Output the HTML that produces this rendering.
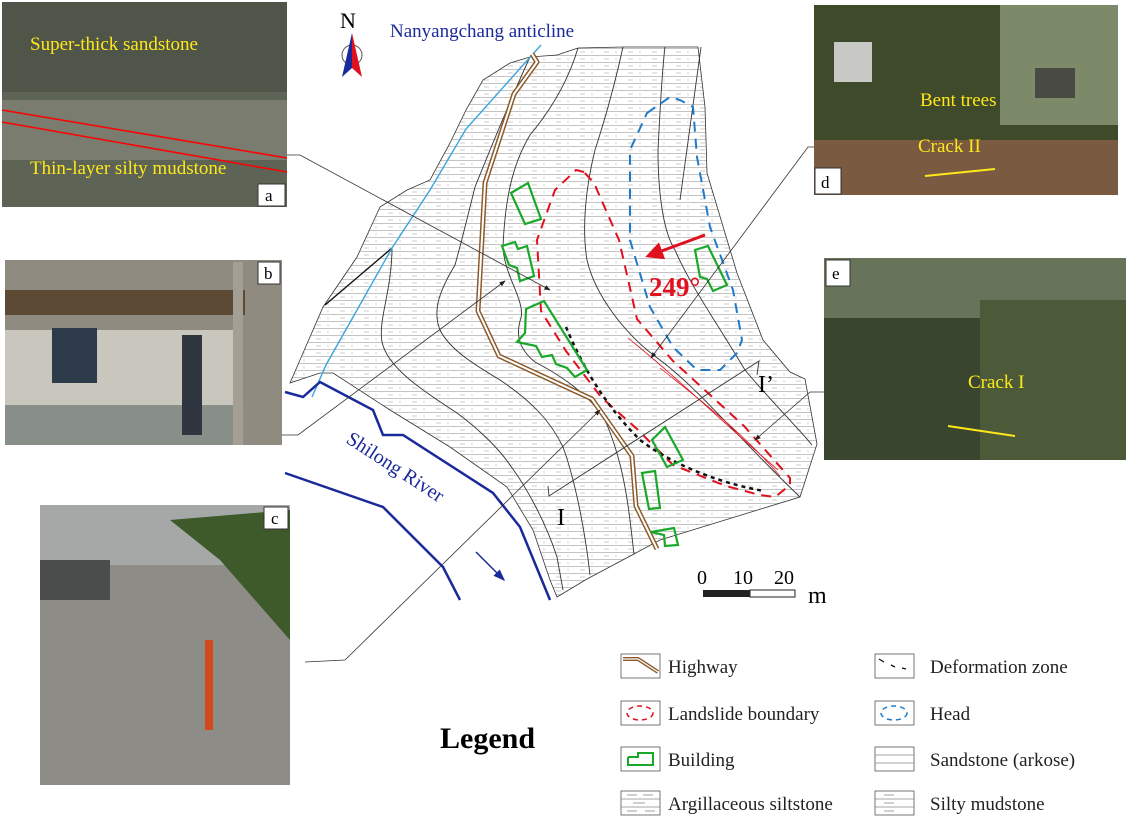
<!DOCTYPE html>
<html><head><meta charset="utf-8"><style>
html,body{margin:0;padding:0;background:#fff;}
svg{display:block;font-family:"Liberation Serif",serif;}
</style></head><body>
<svg width="1133" height="818" viewBox="0 0 1133 818" xmlns="http://www.w3.org/2000/svg">
<defs>
<pattern id="hatch" width="24" height="7" patternUnits="userSpaceOnUse">
<rect width="24" height="7" fill="#fff"/>
<line x1="0" y1="6.5" x2="24" y2="6.5" stroke="#b0b0b0" stroke-width="0.7"/>
<line x1="4" y1="3" x2="9" y2="3" stroke="#b8b8b8" stroke-width="0.7"/>
<line x1="16" y1="2" x2="16" y2="4.5" stroke="#b8b8b8" stroke-width="0.6"/>
</pattern>
<marker id="ah" markerWidth="8" markerHeight="8" refX="7" refY="4" orient="auto"><path d="M0,1 L8,4 L0,7Z" fill="#222"/></marker>
<marker id="ahr" markerWidth="6" markerHeight="6" refX="5" refY="3" orient="auto"><path d="M0,0 L6,3 L0,6Z" fill="#e0101e"/></marker>
<marker id="ahb" markerWidth="8" markerHeight="8" refX="7" refY="4" orient="auto"><path d="M0,1 L8,4 L0,7Z" fill="#1a2a9a"/></marker>
</defs>

<!-- photos -->
<rect x="2" y="2" width="285" height="205" fill="#5d6456"/>
<rect x="2" y="2" width="285" height="90" fill="#4f5548"/>
<rect x="2" y="100" width="285" height="60" fill="#7a7c70"/>
<line x1="2" y1="110" x2="287" y2="158" stroke="#f00" stroke-width="1.5"/>
<line x1="2" y1="122" x2="287" y2="172" stroke="#f00" stroke-width="1.5"/>
<text x="30" y="50" font-size="19" fill="#ffe81a">Super-thick sandstone</text>
<text x="30" y="174" font-size="19" fill="#ffe81a">Thin-layer silty mudstone</text>
<rect x="258" y="184" width="27" height="22" fill="#fff" stroke="#333"/>
<text x="265" y="201" font-size="17">a</text>

<rect x="5" y="260" width="277" height="185" fill="#8f8b80"/>
<rect x="5" y="330" width="230" height="115" fill="#c9c6bd"/>
<rect x="5" y="290" width="240" height="25" fill="#5d4a35"/>
<rect x="52" y="328" width="45" height="55" fill="#2d3a4a"/>
<rect x="5" y="405" width="240" height="40" fill="#888f88"/>
<rect x="233" y="262" width="10" height="183" fill="#a49f95"/>
<rect x="182" y="335" width="20" height="100" fill="#2f3640"/>
<rect x="258" y="262" width="22" height="22" fill="#fff" stroke="#333"/>
<text x="264" y="279" font-size="17">b</text>

<rect x="40" y="505" width="250" height="280" fill="#8d8c87"/>
<rect x="40" y="505" width="250" height="60" fill="#a5a8a6"/>
<polygon points="170,520 290,510 290,640 220,560" fill="#3e5a2a"/>
<rect x="40" y="560" width="70" height="40" fill="#4b4c4c"/>
<rect x="205" y="640" width="8" height="90" fill="#d04a1e"/>
<rect x="264" y="507" width="24" height="22" fill="#fff" stroke="#333"/>
<text x="271" y="524" font-size="17">c</text>

<rect x="814" y="5" width="304" height="190" fill="#3f4a2a"/>
<rect x="814" y="140" width="304" height="55" fill="#7a5a40"/>
<rect x="1000" y="5" width="118" height="120" fill="#7c8a6a"/>
<rect x="834" y="42" width="38" height="40" fill="#c8c9c4"/>
<rect x="1035" y="68" width="40" height="30" fill="#4a4a44"/>
<text x="920" y="106" font-size="19" fill="#ffe81a">Bent trees</text>
<text x="918" y="152" font-size="19" fill="#ffe81a">Crack II</text>
<line x1="925" y1="176" x2="995" y2="169" stroke="#ffe81a" stroke-width="2"/>
<rect x="815" y="168" width="26" height="26" fill="#fff" stroke="#333"/>
<text x="821" y="188" font-size="17">d</text>

<rect x="824" y="258" width="302" height="202" fill="#3a4530"/>
<rect x="824" y="258" width="302" height="60" fill="#67745a"/>
<rect x="980" y="300" width="146" height="160" fill="#4c5a3a"/>
<text x="968" y="388" font-size="19" fill="#ffe81a">Crack I</text>
<line x1="948" y1="426" x2="1015" y2="436" stroke="#ffe81a" stroke-width="2"/>
<rect x="826" y="260" width="24" height="26" fill="#fff" stroke="#333"/>
<text x="832" y="279" font-size="17">e</text>

<!-- north arrow -->
<text x="340" y="28" font-size="22">N</text>
<circle cx="352" cy="55" r="10" fill="none" stroke="#555" stroke-width="1"/>
<polygon points="352,33 342,77 352,68" fill="#1a2a9a"/>
<polygon points="352,33 362,77 352,68" fill="#e0101e"/>
<text x="390" y="37" font-size="19" fill="#1a2a9a">Nanyangchang  anticline</text>

<!-- map -->
<path d="M290,383 L300,360 L323,307 L357,257 L380,207 L407,190 L430,180 L450,143 L466,110 L483,80 L510,63 L530,57 L557,55 L578,48 L623,47 L664,47 L698,47 L705,107 L707,173 L737,273 L763,340 L790,372 L805,379 L817,444 L800,497 L660,540 L634,554 L587,579 L557,597 L550,580 L533,530 L507,487 L450,447 L390,410 L333,373 L320,373 Z" fill="url(#hatch)" stroke="#333" stroke-width="0.8"/>
<g fill="none" stroke="#333" stroke-width="0.9">
<path d="M392,248 C392,290 378,320 382,342 C388,370 430,395 457,413 C480,430 500,450 510,465 C525,485 545,520 557,557 L563,590"/>
<path d="M530,57 C510,100 490,150 475,187 C468,215 462,240 455,265 C440,290 432,310 440,330 C450,350 475,365 500,380 C530,400 550,420 563,447 C575,480 585,530 590,575"/>
<path d="M578,48 C570,75 555,105 530,135 C512,165 505,200 503,247 C504,275 525,300 521,318 C515,335 520,350 535,362 C560,375 590,395 605,420 C618,450 625,480 630,520 L634,554"/>
<path d="M623,47 C618,70 608,110 595,150 C585,190 582,230 587,260 C595,295 625,335 660,360 C700,390 740,440 800,497"/>
<path d="M665,47 C662,70 660,110 658,150 C658,200 665,235 675,250 C690,285 715,320 745,370 C770,400 800,430 812,445"/>
<path d="M680,200 L701,47"/>
</g>
<path d="M392,248 L325,305" stroke="#111" stroke-width="1.4" fill="none"/>
<path d="M541,45 L466,129 L430,190 L392,248 L326,365 L312,397" stroke="#3ba4e0" stroke-width="1.4" fill="none"/>
<g fill="none" stroke-linejoin="round">
<path d="M532,54 L537,62 L514,94 L485,183 L478,311 L499,356 L592,399 L632,456 L636,506 L657,549" stroke="#8a5a2a" stroke-width="5"/>
<path d="M532,54 L537,62 L514,94 L485,183 L478,311 L499,356 L592,399 L632,456 L636,506 L657,549" stroke="#fff" stroke-width="2"/>
</g>
<path d="M584,172 L576,170 L555,190 L537,240 L541,311 L566,351 L601,397 L637,429 L673,465 L726,486 L760,495 L775,497 L790,485 L790,478 L744,426 L673,361 L637,319 L619,240 L594,183 Z" fill="none" stroke="#e0101e" stroke-width="2" stroke-dasharray="10,7"/>
<path d="M647,113 L670,97 L680,100 L693,107 L697,157 L710,227 L733,290 L742,340 L737,353 L720,370 L697,370 L673,347 L650,307 L630,240 L630,150 Z" fill="none" stroke="#1f7ac8" stroke-width="2" stroke-dasharray="10,7"/>
<path d="M566,327 C580,360 600,400 640,440 C680,470 730,485 764,491" fill="none" stroke="#111" stroke-width="2.5" stroke-dasharray="4,4"/>
<g stroke="#e0101e" stroke-width="0.8" fill="none">
<path d="M628,338 C680,380 720,420 778,470"/>
<path d="M660,368 C700,400 740,430 780,476"/>
</g>
<g fill="none" stroke="#1aa82a" stroke-width="2.2">
<polygon points="511,193 528,183 541,219 525,224"/>
<polygon points="502,246 515,242 518,249 527,246 534,276 520,281 517,268 509,265"/>
<polygon points="526,309 544,301 587,370 575,377 567,368 556,364 552,355 542,357 536,346 517,342 525,333"/>
<polygon points="652,440 665,427 683,460 667,467"/>
<polygon points="642,473 655,471 660,508 649,509"/>
<polygon points="651,532 674,528 678,545 665,546 664,535"/>
<polygon points="695,250 708,246 727,285 713,291 707,279 700,277"/>
</g>
<line x1="705" y1="235" x2="648" y2="256" stroke="#e0101e" stroke-width="3" marker-end="url(#ahr)"/>
<text x="649" y="296" font-size="27" font-weight="bold" fill="#e0101e">249°</text>
<polyline points="548,486 549,496 759,361 757,375" fill="none" stroke="#333" stroke-width="0.9"/>
<text x="557" y="525" font-size="24">I</text>
<text x="758" y="392" font-size="24">I’</text>
<path d="M285,392 L303,397 L320,382 L373,410 L383,435 L403,435 L493,493 L520,527 L550,600" fill="none" stroke="#1a2a9a" stroke-width="2.5"/>
<path d="M285,473 L383,507 L443,567 L460,600" fill="none" stroke="#1a2a9a" stroke-width="2.5"/>
<text x="345" y="442" font-size="20" fill="#1a2a9a" transform="rotate(33 345 442)">Shilong River</text>
<line x1="476" y1="552" x2="504" y2="580" stroke="#1a2a9a" stroke-width="1.5" marker-end="url(#ahb)"/>
<g stroke="#333" stroke-width="0.8" fill="none">
<polyline points="287,155 300,155 550,290" marker-end="url(#ah)"/>
<polyline points="282,435 298,435 505,281" marker-end="url(#ah)"/>
<polyline points="305,662 345,660 600,410" marker-end="url(#ah)"/>
<polyline points="814,147 808,147 651,358" marker-end="url(#ah)"/>
<polyline points="824,392 810,392 755,440" marker-end="url(#ah)"/>
</g>
<text x="697" y="584" font-size="20">0</text>
<text x="733" y="584" font-size="20">10</text>
<text x="774" y="584" font-size="20">20</text>
<rect x="703" y="590" width="47" height="7" fill="#222"/>
<rect x="750" y="590" width="45" height="7" fill="#fff" stroke="#222"/>
<text x="808" y="603" font-size="24">m</text>

<text x="440" y="748" font-size="30" font-weight="bold">Legend</text>
<g stroke="#555" stroke-width="0.8" fill="#fff">
<rect x="621" y="654" width="39" height="24"/><rect x="621" y="701" width="39" height="24"/>
<rect x="621" y="747" width="39" height="24"/><rect x="621" y="791" width="39" height="24"/>
<rect x="875" y="654" width="39" height="24"/><rect x="875" y="701" width="39" height="24"/>
<rect x="875" y="747" width="39" height="24"/><rect x="875" y="791" width="39" height="24"/>
</g>
<path d="M623,659 L638,659 L658,672" stroke="#8a5a2a" stroke-width="4" fill="none"/>
<path d="M623,659 L638,659 L658,672" stroke="#fff" stroke-width="1.2" fill="none"/>
<ellipse cx="640" cy="713" rx="13" ry="7" fill="none" stroke="#e0101e" stroke-width="1.5" stroke-dasharray="5,4"/>
<polyline points="628,757 638,757 638,753 653,753 653,765 628,765 628,757" fill="none" stroke="#1aa82a" stroke-width="2"/>
<g stroke="#888" stroke-width="0.8"><line x1="621" y1="799" x2="660" y2="799"/><line x1="621" y1="807" x2="660" y2="807"/><line x1="627" y1="795" x2="637" y2="795"/><line x1="643" y1="795" x2="653" y2="795"/><line x1="633" y1="803" x2="645" y2="803"/><line x1="627" y1="811" x2="637" y2="811"/><line x1="645" y1="811" x2="655" y2="811"/></g>
<path d="M879,659 L884,662 M891,665 L895,667 M902,668 L906,669" stroke="#111" stroke-width="1.3"/>
<ellipse cx="894" cy="713" rx="13" ry="7" fill="none" stroke="#1f7ac8" stroke-width="1.5" stroke-dasharray="5,4"/>
<g stroke="#888" stroke-width="0.8"><line x1="875" y1="755" x2="914" y2="755"/><line x1="875" y1="763" x2="914" y2="763"/><line x1="875" y1="799" x2="914" y2="799"/><line x1="875" y1="807" x2="914" y2="807"/><line x1="884" y1="803" x2="894" y2="803"/><line x1="884" y1="795" x2="894" y2="795"/><line x1="884" y1="811" x2="894" y2="811"/></g>
<g font-size="19" fill="#222">
<text x="668" y="673">Highway</text>
<text x="668" y="720">Landslide boundary</text>
<text x="668" y="766">Building</text>
<text x="668" y="810">Argillaceous siltstone</text>
<text x="930" y="673">Deformation zone</text>
<text x="930" y="720">Head</text>
<text x="930" y="766">Sandstone (arkose)</text>
<text x="930" y="810">Silty mudstone</text>
</g>
</svg>
</body></html>
